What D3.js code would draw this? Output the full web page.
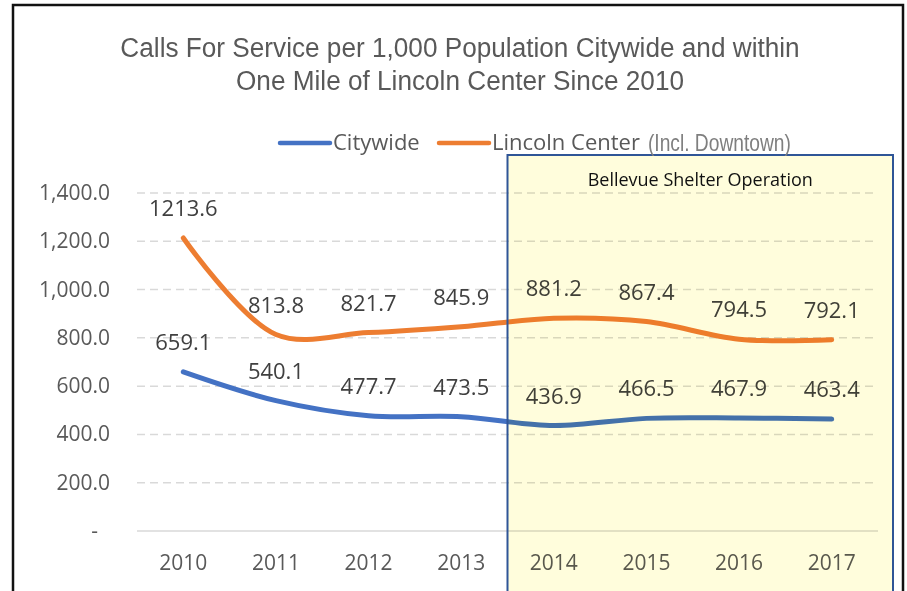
<!DOCTYPE html>
<html>
<head>
<meta charset="utf-8">
<script src="https://cdn.jsdelivr.net/npm/d3@7"></script>
<style>
  body { margin: 0; background: #fff; }
</style>
</head>
<body>
<div id="chart"></div>
<script>
// data
const years = ["2010", "2011", "2012", "2013", "2014", "2015", "2016", "2017"];
const citywide = [659.1, 540.1, 477.7, 473.5, 436.9, 466.5, 467.9, 463.4];
const lincoln = [1213.6, 813.8, 821.7, 845.9, 881.2, 867.4, 794.5, 792.1];
const yTicks = [0, 200, 400, 600, 800, 1000, 1200, 1400];
const titleLines = ["Calls For Service per 1,000 Population Citywide and within",
                    "One Mile of Lincoln Center Since 2010"];
const shelterLabel = "Bellevue Shelter Operation";
const shelterFrom = "2014";

const W = 907, H = 591;
const plot = { left: 137, right: 878, top: 193, bottom: 531 };
const labelFont = "'Open Sans', sans-serif";
const narrowFont = "'Liberation Sans Narrow', 'Arial Narrow', 'Liberation Sans', sans-serif";

const svg = d3.select("#chart").append("svg")
    .attr("width", W)
    .attr("height", H);

// chart frame (only top/left/right are visible in the crop)
svg.append("path")
    .attr("d", `M13,${H} L13,5 L903,5 L903,${H}`)
    .attr("fill", "none")
    .attr("stroke", "#111")
    .attr("stroke-width", 2.5);

// title - squeezed a bit to look like Arial Narrow
svg.append("g")
    .attr("transform", "translate(460,0) scale(0.935,1)")
    .selectAll("text")
    .data(titleLines)
    .join("text")
    .attr("x", 0)
    .attr("y", (d, i) => 57 + i * 33)
    .attr("text-anchor", "middle")
    .attr("font-family", narrowFont)
    .attr("font-size", "28px")
    .attr("fill", "#595959")
    .text(d => d);

const x = d3.scaleBand()
    .domain(years)
    .range([plot.left, plot.right]);
const y = d3.scaleLinear()
    .domain([0, 1400])
    .range([plot.bottom, plot.top]);
const cx = d => x(d) + x.bandwidth() / 2;

// gridlines
svg.append("g").selectAll("line")
    .data(yTicks)
    .join("line")
    .attr("x1", plot.left)
    .attr("x2", plot.right)
    .attr("y1", d => y(d))
    .attr("y2", d => y(d))
    .attr("stroke", "#D9D9D9")
    .attr("stroke-width", 1.5)
    .attr("stroke-dasharray", d => d === 0 ? null : "8,5");

// y axis labels
const fmt = d3.format(",.1f");
svg.append("g").selectAll("text")
    .data(yTicks)
    .join("text")
    .attr("x", d => d === 0 ? 98 : 110)
    .attr("y", d => y(d) + 7)
    .attr("text-anchor", "end")
    .attr("font-family", labelFont)
    .attr("font-size", "21px")
    .attr("fill", "#595959")
    .text(d => d === 0 ? "-" : fmt(d));

// x axis labels
svg.append("g").selectAll("text")
    .data(years)
    .join("text")
    .attr("x", d => cx(d))
    .attr("y", 570)
    .attr("text-anchor", "middle")
    .attr("font-family", labelFont)
    .attr("font-size", "21px")
    .attr("fill", "#595959")
    .text(d => d);

// series lines
const series = [
    { name: "Citywide", values: citywide, color: "#4472C4" },
    { name: "Lincoln Center", values: lincoln, color: "#ED7D31" }
];
const line = d3.line()
    .x((d, i) => cx(years[i]))
    .y(d => y(d))
    .curve(d3.curveCatmullRom.alpha(0.5));

series.forEach(s => {
    svg.append("path")
        .datum(s.values)
        .attr("fill", "none")
        .attr("stroke", s.color)
        .attr("stroke-width", 5)
        .attr("stroke-linecap", "round")
        .attr("d", line);

    svg.append("g").selectAll("text")
        .data(s.values)
        .join("text")
        .attr("x", (d, i) => cx(years[i]))
        .attr("y", d => y(d) - 22)
        .attr("text-anchor", "middle")
        .attr("font-family", labelFont)
        .attr("font-size", "22px")
        .attr("fill", "#404040")
        .text(d => d.toFixed(1));
});

// shelter box (drawn over the lines, tinting them)
const boxLeft = x(shelterFrom);
const boxRight = plot.right + 15;
svg.append("rect")
    .attr("x", boxLeft)
    .attr("y", 155)
    .attr("width", boxRight - boxLeft)
    .attr("height", H)
    .attr("fill", "#FFFDDC")
    .style("mix-blend-mode", "multiply");
svg.append("rect")
    .attr("x", boxLeft)
    .attr("y", 155)
    .attr("width", boxRight - boxLeft)
    .attr("height", H)
    .attr("fill", "none")
    .attr("stroke", "#2F5597")
    .attr("stroke-width", 2);
svg.append("text")
    .attr("x", (boxLeft + boxRight) / 2)
    .attr("y", 186)
    .attr("text-anchor", "middle")
    .attr("font-family", labelFont)
    .attr("font-size", "18px")
    .attr("fill", "#111")
    .text(shelterLabel);

// legend
const legend = svg.append("g");
legend.append("line")
    .attr("x1", 280).attr("x2", 330)
    .attr("y1", 143).attr("y2", 143)
    .attr("stroke", series[0].color)
    .attr("stroke-width", 4.5)
    .attr("stroke-linecap", "round");
legend.append("text")
    .attr("x", 333).attr("y", 150)
    .attr("font-family", labelFont)
    .attr("font-size", "22px")
    .attr("fill", "#595959")
    .text("Citywide");
legend.append("line")
    .attr("x1", 439).attr("x2", 489)
    .attr("y1", 143).attr("y2", 143)
    .attr("stroke", series[1].color)
    .attr("stroke-width", 4.5)
    .attr("stroke-linecap", "round");
const lt = legend.append("text")
    .attr("x", 492).attr("y", 150)
    .attr("font-family", labelFont)
    .attr("font-size", "22px")
    .attr("fill", "#595959")
    .text("Lincoln Center");
const ltEnd = 492 + lt.node().getComputedTextLength() + 8;
legend.append("text")
    .attr("transform", `translate(${ltEnd},151) scale(0.8,1)`)
    .attr("font-family", narrowFont)
    .attr("font-size", "24px")
    .attr("fill", "#7F7F7F")
    .text("(Incl. Downtown)");
</script>
</body>
</html>
